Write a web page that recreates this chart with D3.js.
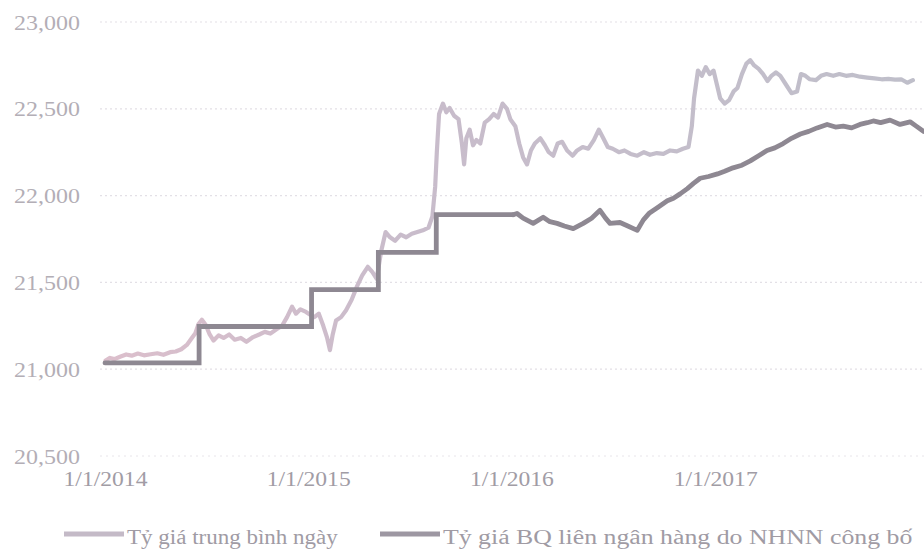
<!DOCTYPE html>
<html><head><meta charset="utf-8">
<script src="https://cdn.jsdelivr.net/npm/d3@7/dist/d3.min.js"></script>
<style>body{margin:0;background:#fff} svg{display:block}</style>
</head><body><svg id="c" width="924" height="554"></svg>
<script>
// ---------- data ----------
const yTicks = [20500, 21000, 21500, 22000, 22500, 23000];
const xTicks = ["2014-01-01", "2015-01-01", "2016-01-01", "2017-01-01"];
const seriesNames = ["Tỷ giá trung bình ngày", "Tỷ giá BQ liên ngân hàng do NHNN công bố"];

// daily average market rate
const dailyRate = [
["2014-01-02",21050],["2014-01-10",21065],["2014-01-18",21058],["2014-01-28",21072],["2014-02-08",21085],
["2014-02-18",21078],["2014-03-01",21090],["2014-03-12",21080],["2014-03-24",21086],["2014-04-05",21092],
["2014-04-16",21083],["2014-04-28",21098],["2014-05-08",21102],["2014-05-18",21115],["2014-05-28",21140],
["2014-06-05",21175],["2014-06-12",21205],["2014-06-18",21260],["2014-06-24",21285],["2014-07-01",21255],
["2014-07-08",21200],["2014-07-15",21165],["2014-07-24",21195],["2014-08-02",21180],["2014-08-12",21200],
["2014-08-22",21170],["2014-09-02",21180],["2014-09-12",21158],["2014-09-24",21185],["2014-10-05",21200],
["2014-10-15",21215],["2014-10-25",21205],["2014-11-05",21230],["2014-11-15",21250],["2014-11-24",21300],
["2014-12-03",21360],["2014-12-10",21320],["2014-12-18",21345],["2014-12-28",21330],["2015-01-06",21310],
["2015-01-12",21300],["2015-01-20",21320],["2015-01-28",21250],["2015-02-04",21180],["2015-02-09",21110],
["2015-02-14",21200],["2015-02-20",21280],["2015-03-01",21300],["2015-03-10",21340],["2015-03-20",21400],
["2015-03-30",21480],["2015-04-08",21540],["2015-04-18",21590],["2015-04-26",21560],["2015-05-04",21520],
["2015-05-12",21680],["2015-05-20",21790],["2015-05-28",21760],["2015-06-06",21740],["2015-06-16",21775],
["2015-06-26",21760],["2015-07-06",21780],["2015-07-16",21790],["2015-07-26",21800],["2015-08-05",21815],
["2015-08-12",21880],["2015-08-17",22050],["2015-08-20",22250],["2015-08-24",22470],["2015-08-31",22530],
["2015-09-06",22480],["2015-09-12",22505],["2015-09-20",22460],["2015-09-28",22440],["2015-10-04",22300],
["2015-10-08",22180],["2015-10-12",22330],["2015-10-18",22380],["2015-10-24",22290],["2015-10-30",22320],
["2015-11-06",22300],["2015-11-14",22420],["2015-11-22",22440],["2015-11-30",22470],["2015-12-08",22450],
["2015-12-16",22530],["2015-12-24",22500],["2015-12-30",22440],["2016-01-08",22400],["2016-01-15",22300],
["2016-01-22",22220],["2016-01-29",22180],["2016-02-05",22260],["2016-02-12",22300],["2016-02-22",22330],
["2016-03-01",22290],["2016-03-08",22250],["2016-03-16",22230],["2016-03-24",22300],["2016-04-01",22310],
["2016-04-10",22260],["2016-04-20",22230],["2016-04-28",22260],["2016-05-08",22280],["2016-05-18",22270],
["2016-05-28",22320],["2016-06-06",22380],["2016-06-14",22330],["2016-06-22",22280],["2016-07-01",22270],
["2016-07-12",22250],["2016-07-22",22260],["2016-08-02",22240],["2016-08-14",22230],["2016-08-26",22250],
["2016-09-06",22235],["2016-09-18",22245],["2016-09-30",22240],["2016-10-12",22260],["2016-10-24",22255],
["2016-11-04",22270],["2016-11-14",22280],["2016-11-20",22400],["2016-11-24",22560],["2016-12-01",22720],
["2016-12-08",22690],["2016-12-15",22740],["2016-12-22",22700],["2016-12-29",22720],["2017-01-04",22640],
["2017-01-10",22560],["2017-01-18",22530],["2017-01-26",22550],["2017-02-03",22600],["2017-02-10",22620],
["2017-02-18",22700],["2017-02-26",22760],["2017-03-05",22780],["2017-03-12",22750],["2017-03-20",22730],
["2017-03-28",22700],["2017-04-05",22660],["2017-04-12",22690],["2017-04-20",22710],["2017-04-28",22690],
["2017-05-08",22640],["2017-05-18",22590],["2017-05-28",22600],["2017-06-04",22700],["2017-06-12",22690],
["2017-06-20",22670],["2017-07-01",22665],["2017-07-10",22690],["2017-07-20",22700],["2017-08-01",22690],
["2017-08-12",22700],["2017-08-24",22690],["2017-09-05",22695],["2017-09-18",22685],["2017-10-01",22680],
["2017-10-14",22675],["2017-10-27",22670],["2017-11-08",22672],["2017-11-20",22668],["2017-12-01",22670],
["2017-12-12",22650],["2017-12-22",22665]
];

// official rate: step adjustments up to 2016, then daily central rate
const centralSteps = [
["2014-01-01",21036],["2014-06-19",21246],["2015-01-07",21458],["2015-05-07",21673],
["2015-08-19",21890],["2016-01-04",21890]
];
const centralDaily = [
["2016-01-04",21890],["2016-01-11",21897],["2016-01-22",21870],["2016-02-09",21840],["2016-02-27",21875],
["2016-03-10",21850],["2016-03-23",21840],["2016-04-05",21825],["2016-04-21",21810],["2016-05-09",21840],
["2016-05-24",21870],["2016-06-08",21915],["2016-06-18",21870],["2016-06-26",21840],["2016-07-14",21845],
["2016-07-28",21825],["2016-08-14",21800],["2016-08-25",21860],["2016-09-05",21900],["2016-09-19",21930],
["2016-10-07",21970],["2016-10-18",21985],["2016-10-30",22010],["2016-11-12",22040],["2016-11-23",22070],
["2016-12-05",22100],["2016-12-20",22110],["2017-01-05",22125],["2017-01-18",22140],["2017-02-02",22160],
["2017-02-18",22175],["2017-03-05",22200],["2017-03-20",22230],["2017-04-04",22260],["2017-04-18",22275],
["2017-05-03",22300],["2017-05-18",22330],["2017-06-03",22355],["2017-06-18",22370],["2017-07-03",22390],
["2017-07-21",22410],["2017-08-05",22395],["2017-08-19",22400],["2017-09-03",22390],["2017-09-18",22410],
["2017-10-01",22420],["2017-10-12",22430],["2017-10-25",22420],["2017-11-11",22435],["2017-11-29",22410],
["2017-12-17",22425],["2017-12-28",22400],["2018-01-10",22370]
];

// ---------- chart ----------
const parse = d3.timeParse("%Y-%m-%d");
const svg = d3.select("#c");
const x = d3.scaleTime().domain([parse("2014-01-01"), parse("2018-01-11")]).range([105, 924]);
const y = d3.scaleLinear().domain([20500, 23000]).range([456, 22]);
const fmtY = d3.format(",");
const fmtX = d3.timeFormat("%-m/%-d/%Y");
const serif = "'Liberation Serif','DejaVu Serif',serif";

function stretch(sel, k) {
  sel.each(function () {
    const w = this.getComputedTextLength();
    this.setAttribute("textLength", w * k);
    this.setAttribute("lengthAdjust", "spacingAndGlyphs");
  });
}

// gridlines
svg.append("g").selectAll("line").data(yTicks.slice(1)).join("line")
  .attr("x1", 100).attr("x2", 924)
  .attr("y1", d => y(d)).attr("y2", d => y(d))
  .attr("stroke", "#e3e0e6").attr("stroke-width", 1.2).attr("stroke-dasharray", "2,3");
svg.append("line").attr("x1", 100).attr("x2", 924).attr("y1", y(20500)).attr("y2", y(20500))
  .attr("stroke", "#e8e5ea").attr("stroke-width", 1).attr("stroke-dasharray", "2,4");

// y axis
const gy = svg.append("g").attr("transform", "translate(100,0)")
  .call(d3.axisLeft(y).tickValues(yTicks).tickFormat(fmtY).tickSize(0).tickPadding(20));
gy.select(".domain").remove();
gy.selectAll("text").attr("font-family", serif).attr("font-size", 22).attr("fill", "#b3aeb6");
stretch(gy.selectAll("text"), 1.09);

// x axis
const gx = svg.append("g").attr("transform", "translate(0," + y(20500) + ")")
  .call(d3.axisBottom(x).tickValues(xTicks.map(parse)).tickFormat(fmtX).tickSize(0).tickPadding(16));
gx.select(".domain").remove();
gx.selectAll("text").attr("font-family", serif).attr("font-size", 20).attr("fill", "#a19ca5");
stretch(gx.selectAll("text"), 1.18);

// gradient for light series
const defs = svg.append("defs");
const grad = defs.append("linearGradient").attr("id", "lg").attr("gradientUnits", "userSpaceOnUse")
  .attr("x1", 105).attr("x2", 924).attr("y1", 0).attr("y2", 0);
grad.append("stop").attr("offset", "0%").attr("stop-color", "#dcbfcc");
grad.append("stop").attr("offset", "35%").attr("stop-color", "#c9bccb");
grad.append("stop").attr("offset", "100%").attr("stop-color", "#bfbfca");

const line = d3.line().x(d => x(parse(d[0]))).y(d => y(d[1]));

svg.append("path").datum(dailyRate).attr("d", line)
  .attr("fill", "none").attr("stroke", "url(#lg)").attr("stroke-width", 4.2)
  .attr("stroke-linejoin", "round").attr("stroke-linecap", "round");

const stepLine = d3.line().x(d => x(parse(d[0]))).y(d => y(d[1])).curve(d3.curveStepAfter);
svg.append("path").datum(centralSteps).attr("d", stepLine)
  .attr("fill", "none").attr("stroke", "#8e8892").attr("stroke-width", 4.8)
  .attr("stroke-linecap", "round");
svg.append("path").datum(centralDaily).attr("d", line)
  .attr("fill", "none").attr("stroke", "#8e8892").attr("stroke-width", 4.8)
  .attr("stroke-linejoin", "round").attr("stroke-linecap", "round");

// legend
const legend = svg.append("g");
const items = [
  { name: seriesNames[0], x1: 64, x2: 124, color: "#c4bac7", k: 1.15 },
  { name: seriesNames[1], x1: 380, x2: 440, color: "#9d97a2", k: 1.29 }
];
items.forEach(it => {
  legend.append("line").attr("x1", it.x1).attr("x2", it.x2).attr("y1", 534).attr("y2", 534)
    .attr("stroke", it.color).attr("stroke-width", 5);
  const t = legend.append("text").attr("x", it.x2 + 3).attr("y", 544)
    .attr("font-family", serif).attr("font-size", 20).attr("fill", "#a09ba4").text(it.name);
  stretch(t, it.k);
});
</script>
</body></html>
